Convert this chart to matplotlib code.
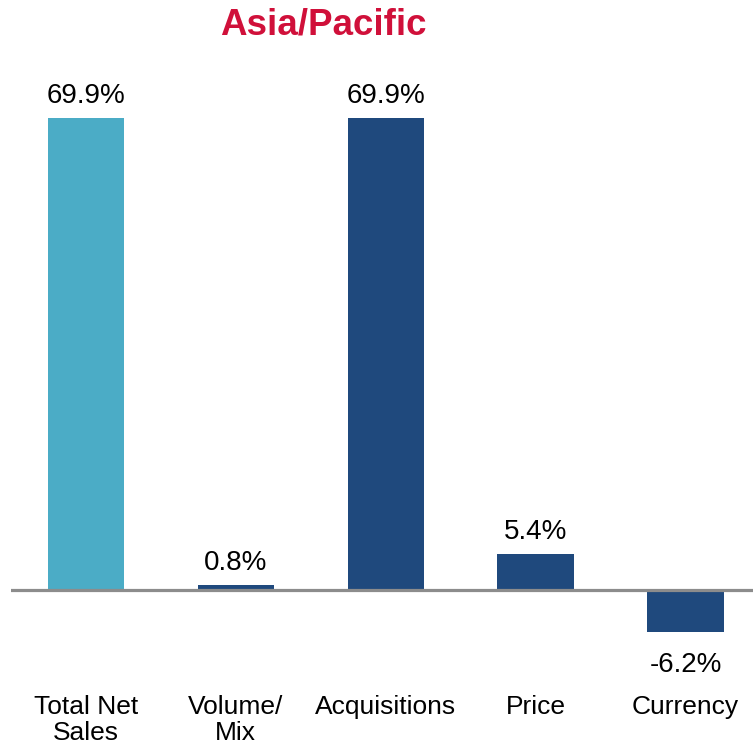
import matplotlib.pyplot as plt

categories = ['Total Net\nSales', 'Volume/\nMix', 'Acquisitions', 'Price', 'Currency']
values = [69.9, 0.8, 69.9, 5.4, -6.2]
labels = ['69.9%', '0.8%', '69.9%', '5.4%', '-6.2%']
colors = ['#4BACC6', '#1F497D', '#1F497D', '#1F497D', '#1F497D']
title = 'Asia/Pacific'

W, H = 753, 748
fig = plt.figure(figsize=(W / 100, H / 100), dpi=100)
ax = fig.add_axes([11 / W, 0, (W - 11) / W, 1])

scale = 6.75          # px per percentage point
zero_px = H - 590     # zero line, pixels from bottom
ax.set_xlim(-0.5, 4.45)
ax.set_ylim(-zero_px / scale, (H - zero_px) / scale)

x = list(range(len(values)))
ax.bar(x, values, width=0.51, color=colors, zorder=2)
ax.axhline(0, color='#8C8C8C', lw=2.3, zorder=3)

font = ['Liberation Sans', 'DejaVu Sans']

for xi, v, lab in zip(x, values, labels):
    if v >= 0:
        ax.text(xi, v + 1.3, lab, ha='center', va='bottom', fontsize=20,
                family=font, color='black')
    else:
        ax.text(xi, v - 3.0, lab, ha='center', va='top', fontsize=20,
                family=font, color='black')

for xi, cat in zip(x, categories):
    ax.text(xi, -15.6, cat, ha='center', va='top', fontsize=19,
            family=font, color='black', linespacing=1.1)

ax.axis('off')

fig.text(323 / W, 1 - 25 / H, title, ha='center', va='center',
         fontsize=26.5, fontweight='bold', family=font, color='#D0103A')

fig.savefig('out.png', dpi=100)
